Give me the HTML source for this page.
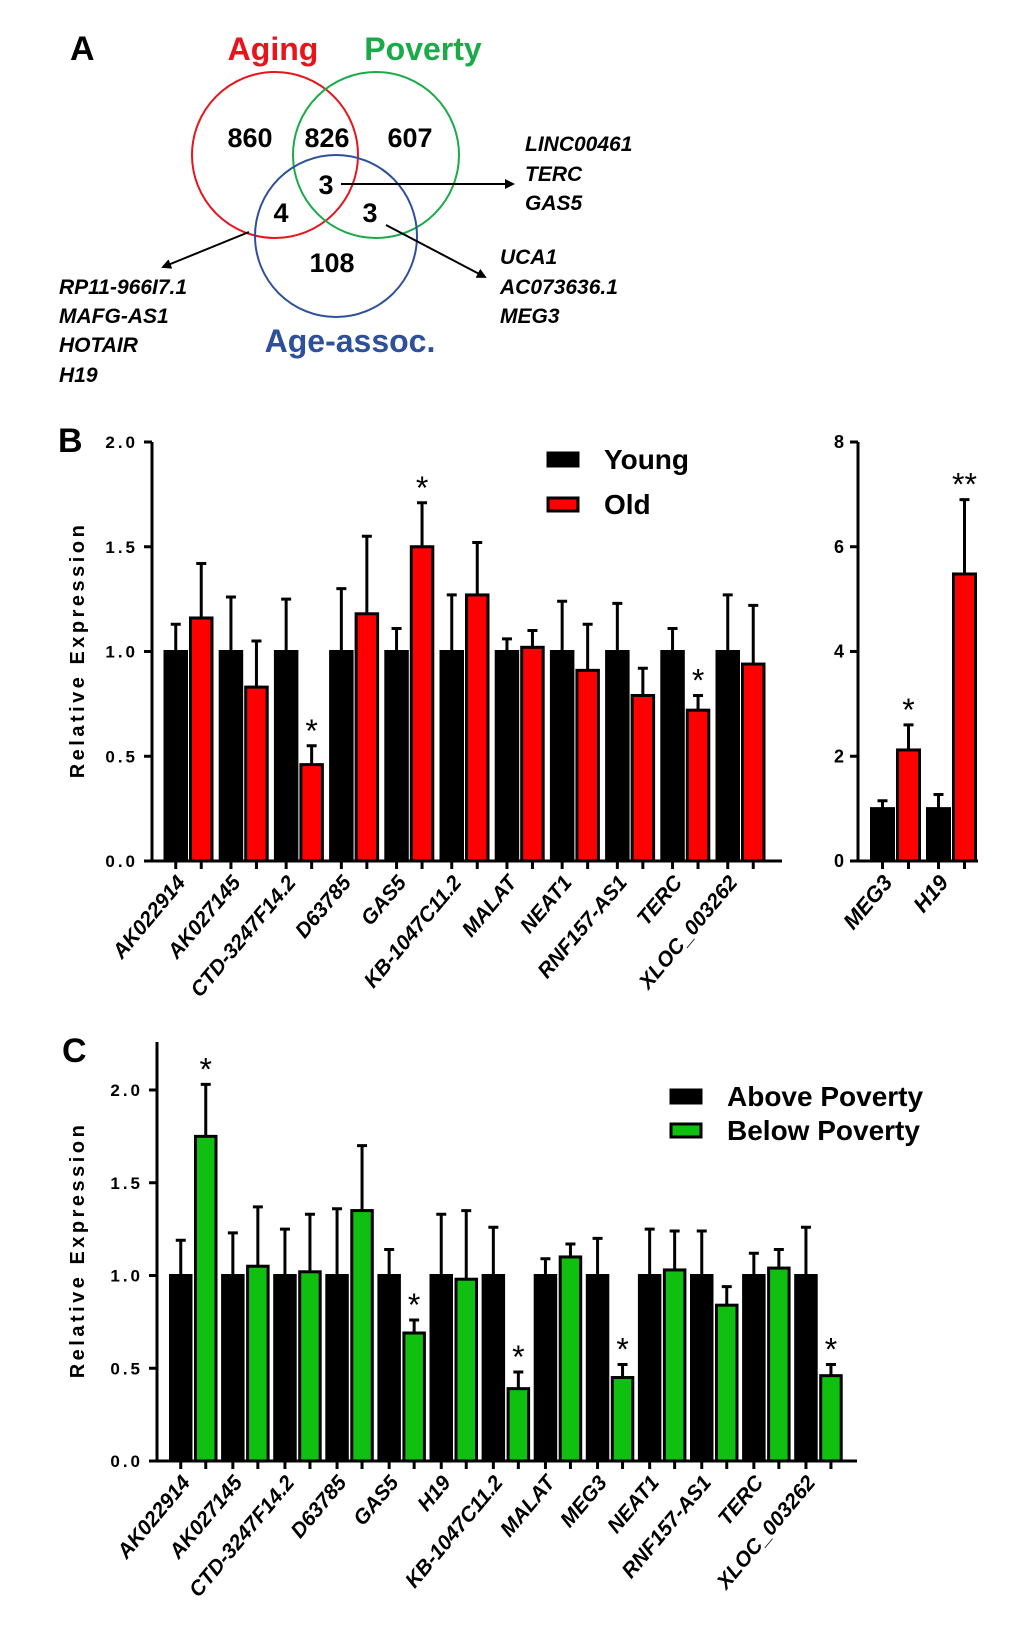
<!DOCTYPE html>
<html><head><meta charset="utf-8"><style>
html,body{margin:0;padding:0;background:#fff;}
svg{display:block;font-family:"Liberation Sans",Arial,sans-serif;font-weight:bold;}
</style></head><body>
<svg id="fig" width="1020" height="1633" viewBox="0 0 1020 1633">
<g>
<text x="70" y="60" font-size="34">A</text>
<circle cx="275" cy="155" r="83" fill="none" stroke="#e8141c" stroke-width="2"/>
<circle cx="376" cy="155" r="83" fill="none" stroke="#1aaa48" stroke-width="2"/>
<circle cx="336" cy="236" r="81" fill="none" stroke="#2e4f9a" stroke-width="2"/>
<text x="273" y="60" font-size="32" fill="#e8141c" text-anchor="middle">Aging</text>
<text x="423" y="60" font-size="32" fill="#1aaa48" text-anchor="middle">Poverty</text>
<text x="350" y="352" font-size="32" fill="#2e4f9a" text-anchor="middle">Age-assoc.</text>
<g font-size="27" text-anchor="middle">
<text x="250" y="147">860</text>
<text x="327" y="147">826</text>
<text x="410" y="147">607</text>
<text x="326" y="194">3</text>
<text x="281" y="222">4</text>
<text x="370" y="222">3</text>
<text x="332" y="272">108</text>
</g>
<defs><marker id="ah" markerWidth="10" markerHeight="10" refX="8" refY="5" orient="auto" markerUnits="userSpaceOnUse"><path d="M0,0 L10,5 L0,10 z" fill="#000"/></marker></defs>
<line x1="341" y1="184" x2="513" y2="184" stroke="#000" stroke-width="2" marker-end="url(#ah)"/>
<line x1="249" y1="232" x2="163" y2="267" stroke="#000" stroke-width="2" marker-end="url(#ah)"/>
<line x1="386" y1="225" x2="485" y2="277" stroke="#000" stroke-width="2" marker-end="url(#ah)"/>
<g font-size="21" font-style="italic">
<text x="525" y="151">LINC00461</text><text x="525" y="181">TERC</text><text x="525" y="210">GAS5</text>
<text x="500" y="264">UCA1</text><text x="500" y="294">AC073636.1</text><text x="500" y="323">MEG3</text>
<text x="59" y="294">RP11-966I7.1</text><text x="59" y="323">MAFG-AS1</text><text x="59" y="352">HOTAIR</text><text x="59" y="382">H19</text>
</g>
</g>
<g id="pb"></g>
<g id="pb2"></g>
<g id="pc"></g>
</svg>
<script>
const bGenes=["AK022914","AK027145","CTD-3247F14.2","D63785","GAS5","KB-1047C11.2","MALAT","NEAT1","RNF157-AS1","TERC","XLOC_003262"];
const bYoung=[1,1,1,1,1,1,1,1,1,1,1];
const bYoungErr=[1.13,1.26,1.25,1.30,1.11,1.27,1.06,1.24,1.23,1.11,1.27];
const bOld=[1.16,0.83,0.46,1.18,1.50,1.27,1.02,0.91,0.79,0.72,0.94];
const bOldErr=[1.42,1.05,0.55,1.55,1.71,1.52,1.10,1.13,0.92,0.79,1.22];
const bStars=["","","*","","*","","","","","*",""];
const bTicks=["0.0","0.5","1.0","1.5","2.0"];
const b2Genes=["MEG3","H19"];
const b2Young=[1,1];
const b2YoungErr=[1.15,1.27];
const b2Old=[2.12,5.48];
const b2OldErr=[2.6,6.9];
const b2Stars=["*","**"];
const b2Ticks=["0","2","4","6","8"];
const cGenes=["AK022914","AK027145","CTD-3247F14.2","D63785","GAS5","H19","KB-1047C11.2","MALAT","MEG3","NEAT1","RNF157-AS1","TERC","XLOC_003262"];
const cAbove=[1,1,1,1,1,1,1,1,1,1,1,1,1];
const cAboveErr=[1.19,1.23,1.25,1.36,1.14,1.33,1.26,1.09,1.20,1.25,1.24,1.12,1.26];
const cBelow=[1.75,1.05,1.02,1.35,0.69,0.98,0.39,1.10,0.45,1.03,0.84,1.04,0.46];
const cBelowErr=[2.03,1.37,1.33,1.70,0.76,1.35,0.48,1.17,0.52,1.24,0.94,1.14,0.52];
const cStars=["*","","","","*","","*","","*","","","","*"];
const cTicks=["0.0","0.5","1.0","1.5","2.0"];

const NS="http://www.w3.org/2000/svg";
function mk(p,t,a){const e=document.createElementNS(NS,t);for(const k in a)e.setAttribute(k,a[k]);p.appendChild(e);return e;}
function chart(g,o){
  const y=v=>o.y0-(v/o.max)*(o.y0-o.yTop);
  const ax=mk(g,'path',{d:`M${o.x0},${o.axTop} L${o.x0},${o.y0} L${o.xEnd},${o.y0}`,fill:'none',stroke:'#000','stroke-width':3});
  
  
  o.ticks.forEach((t,i)=>{
    const v=parseFloat(t), yy=y(v);
    mk(g,'line',{x1:o.x0-8,y1:yy,x2:o.x0,y2:yy,stroke:'#000','stroke-width':3});
    const tx=mk(g,'text',{x:o.x0-14,y:yy+6,'font-size':o.tickFs,'text-anchor':'end','letter-spacing':o.ls});
    tx.textContent=t;
    
    
  });
  o.genes.forEach((gn,i)=>{
    const bx=o.first+i*o.pitch;
    [[o.s1,o.e1,'#000'],[o.s2,o.e2,o.col]].forEach((s,j)=>{
      const x=bx+j*(o.bw+o.gap), v=s[0][i], top=y(v);
      const r=mk(g,'rect',{x:x+1.5,y:top,width:o.bw-3,height:o.y0-top,fill:s[2],stroke:'#000','stroke-width':3});
      
      
      const cx=x+o.bw/2, et=y(s[1][i]);
      const eb=mk(g,'path',{d:`M${cx},${top} L${cx},${et} M${cx-5},${et} L${cx+5},${et}`,stroke:'#000','stroke-width':3,fill:'none'});
      
      
      mk(g,'line',{x1:cx,y1:o.y0,x2:cx,y2:o.y0+8,stroke:'#000','stroke-width':3});
      if(j===1&&o.stars[i]){
        const st=mk(g,'text',{x:cx,y:et-4,'font-size':32,'font-weight':'normal','text-anchor':'middle'});
        st.textContent=o.stars[i];
        
        
      }
    });
    const lx=bx+o.bw+o.gap/2+ (o.lblOff||0);
    const lb=mk(g,'text',{x:lx,y:o.y0+22,'font-size':o.lblFs,'font-style':'italic','text-anchor':'end',transform:`rotate(-50 ${lx} ${o.y0+22})`});
    lb.textContent=gn;
    
    
  });
  if(o.title){
    const t=mk(g,'text',{x:0,y:0,'font-size':20,'text-anchor':'middle','letter-spacing':3.5,transform:`translate(${o.title[0]},${o.title[1]}) rotate(-90)`});
    t.textContent='Relative Expression';
    
    
  }
}
chart(document.getElementById('pb'),{x0:152,y0:861,yTop:442,axTop:442,xEnd:782,max:2,ticks:bTicks,tickFs:17,ls:3,genes:bGenes,s1:bYoung,e1:bYoungErr,s2:bOld,e2:bOldErr,col:'#ff0000',first:163.5,pitch:55.2,bw:24.5,gap:1,stars:bStars,lblFs:21,lblOff:-2,fn:'young',sn:'old',title:[84,650]});
chart(document.getElementById('pb2'),{x0:858,y0:861,yTop:442,axTop:442,xEnd:978,max:8,ticks:b2Ticks,tickFs:18,ls:0,genes:b2Genes,s1:b2Young,e1:b2YoungErr,s2:b2Old,e2:b2OldErr,col:'#ff0000',first:870,pitch:56,bw:25,gap:1,stars:b2Stars,lblFs:22,lblOff:-2,fn:'young',sn:'old'});
chart(document.getElementById('pc'),{x0:157,y0:1461,yTop:1090,axTop:1042,xEnd:857,max:2,ticks:cTicks,tickFs:17,ls:3,genes:cGenes,s1:cAbove,e1:cAboveErr,s2:cBelow,e2:cBelowErr,col:'#10c010',first:169,pitch:52.1,bw:23.5,gap:1.5,stars:cStars,lblFs:21,lblOff:-2,fn:'above',sn:'below',title:[84,1250]});
const svg=document.getElementById('fig');
function txt(x,y,s,t,n,extra){const e=mk(svg,'text',Object.assign({x:x,y:y,'font-size':s},extra||{}));e.textContent=t;return e;}
txt(58,452,34,'B','panel-b-label');
txt(62,1062,34,'C','panel-c-label');
function leg(x,y,col,label,n){
  const r=mk(svg,'rect',{x:x,y:y,width:30,height:13,fill:col,stroke:'#000','stroke-width':3});
  
  
  txt(x+56,y+16,28,label,n+'-label');
}
leg(548,453,'#000','Young','legend-young');
leg(548,498,'#ff0000','Old','legend-old');
leg(671,1090,'#000','Above Poverty','legend-above');
leg(671,1124,'#10c010','Below Poverty','legend-below');
</script>
</body></html>
